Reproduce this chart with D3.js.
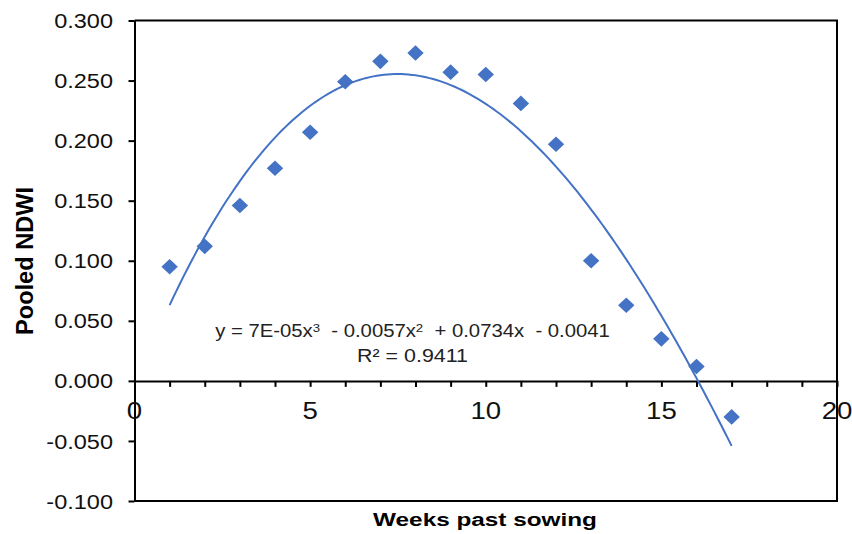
<!DOCTYPE html>
<html>
<head>
<meta charset="utf-8">
<script src="https://cdn.jsdelivr.net/npm/d3@7"></script>
<style>
  html, body { margin: 0; padding: 0; background: #fff; }
  svg { display: block; font-family: "Liberation Sans", Arial, sans-serif; }
  text { white-space: pre; }
</style>
</head>
<body>
<svg id="chart" width="852" height="534"></svg>
<script>
// ---- data ----
const weeks = [1, 2, 3, 4, 5, 6, 7, 8, 9, 10, 11, 12, 13, 14, 15, 16, 17];
const ndwi  = [0.095, 0.112, 0.146, 0.177, 0.207, 0.249, 0.266, 0.273, 0.257, 0.255, 0.231, 0.197, 0.100, 0.063, 0.035, 0.012, -0.030];
const yTickValues = [-0.1, -0.05, 0, 0.05, 0.1, 0.15, 0.2, 0.25, 0.3];
const yTickLabels = ["-0.100", "-0.050", "0.000", "0.050", "0.100", "0.150", "0.200", "0.250", "0.300"];
const xTickValues = [0, 5, 10, 15, 20];
const xTickLabels = ["0", "5", "10", "15", "20"];
const xTitle = "Weeks past sowing";
const yTitle = "Pooled NDWI";
const eqLine2 = "R² = 0.9411";

const color = "#4472C4";
const svg = d3.select("#chart");
const L = 134.5, R = 837, T = 20.5, B = 501;

const x = d3.scaleLinear().domain([0, 20]).range([L, R]);
const y = d3.scaleLinear().domain([-0.1, 0.3]).range([B, T]);

// frame (top, right, bottom)
svg.append("path")
  .attr("d", `M${L},${T}H${R}V${B}H${L}`)
  .attr("fill", "none").attr("stroke", "#000").attr("stroke-width", 2);

// y axis
const yAxis = svg.append("g").attr("transform", `translate(${L},0)`)
  .call(d3.axisLeft(y).tickValues(yTickValues).tickSize(6).tickSizeOuter(0).tickFormat(""));
yAxis.selectAll("path, line").attr("stroke", "#000").attr("stroke-width", 2);

// x axis at zero
const xAxis = svg.append("g").attr("transform", `translate(0,${y(0)})`)
  .call(d3.axisBottom(x).tickValues(d3.range(0, 21)).tickSize(6).tickSizeOuter(0).tickFormat(""));
xAxis.selectAll("path, line").attr("stroke", "#000").attr("stroke-width", 2);

// helper: stretch text horizontally to a target width
function fitWidth(sel, target) {
  sel.each(function() {
    const len = this.getComputedTextLength();
    const k = target / len;
    const tr = this.getAttribute("data-tr");
    this.setAttribute("transform", `${tr} scale(${k},1)`);
  });
}

// y tick labels
yTickValues.forEach((v, i) => {
  svg.append("text")
    .attr("transform", `translate(113,${y(v)}) scale(1.12,1)`)
    .attr("text-anchor", "end").attr("dy", "0.36em")
    .attr("font-size", 21).attr("fill", "#111")
    .text(yTickLabels[i]);
});

// x tick labels
xTickValues.forEach((v, i) => {
  svg.append("text")
    .attr("transform", `translate(${x(v)},419) scale(1.15,1)`)
    .attr("text-anchor", "middle")
    .attr("font-size", 24).attr("fill", "#111")
    .text(xTickLabels[i]);
});

// titles
const xt = svg.append("text")
  .attr("data-tr", "translate(485,526)")
  .attr("text-anchor", "middle").attr("font-size", 19).attr("font-weight", "bold")
  .text(xTitle);
fitWidth(xt, 224);

const yt = svg.append("text")
  .attr("data-tr", "translate(33,261) rotate(-90)")
  .attr("text-anchor", "middle").attr("font-size", 24).attr("font-weight", "bold")
  .text(yTitle);
fitWidth(yt, 148);

// cubic least-squares trendline
function polyfit(xs, ys, deg) {
  const n = deg + 1;
  const A = Array.from({length: n}, () => new Array(n + 1).fill(0));
  for (let k = 0; k < xs.length; k++) {
    for (let i = 0; i < n; i++) {
      for (let j = 0; j < n; j++) A[i][j] += Math.pow(xs[k], i + j);
      A[i][n] += ys[k] * Math.pow(xs[k], i);
    }
  }
  for (let i = 0; i < n; i++) {
    let p = i;
    for (let r = i + 1; r < n; r++) if (Math.abs(A[r][i]) > Math.abs(A[p][i])) p = r;
    [A[i], A[p]] = [A[p], A[i]];
    for (let r = 0; r < n; r++) {
      if (r === i) continue;
      const f = A[r][i] / A[i][i];
      for (let c = i; c <= n; c++) A[r][c] -= f * A[i][c];
    }
  }
  return A.map((row, i) => row[n] / row[i]);
}
const coef = polyfit(weeks, ndwi, 3);
const fx = t => coef[0] + coef[1] * t + coef[2] * t * t + coef[3] * t * t * t;
const xs = d3.range(weeks[0], weeks[weeks.length - 1] + 0.001, 0.1);
svg.append("path")
  .datum(xs)
  .attr("d", d3.line().x(t => x(t)).y(t => y(fx(t))))
  .attr("fill", "none").attr("stroke", color).attr("stroke-width", 2);

// markers (diamonds)
svg.append("g").selectAll("path")
  .data(weeks.map((w, i) => [w, ndwi[i]]))
  .join("path")
  .attr("d", "M0,-7.8L8.2,0L0,7.8L-8.2,0Z")
  .attr("transform", d => `translate(${x(d[0])},${y(d[1])})`)
  .attr("fill", color);

// equation text
const eq = svg.append("text")
  .attr("data-tr", "translate(412.5,336.7)")
  .attr("text-anchor", "middle").attr("font-size", 17.5).attr("fill", "#222");
eq.append("tspan").text("y = 7E-05x");
eq.append("tspan").attr("font-size", "65%").attr("dy", "-0.45em").text("3");
eq.append("tspan").attr("dy", "0.29em").text("  - 0.0057x");
eq.append("tspan").attr("font-size", "65%").attr("dy", "-0.45em").text("2");
eq.append("tspan").attr("dy", "0.29em").text("  + 0.0734x  - 0.0041");
fitWidth(eq, 395);

const eq2 = svg.append("text")
  .attr("data-tr", "translate(412.5,361.7)")
  .attr("text-anchor", "middle").attr("font-size", 17.5).attr("fill", "#222")
  .text(eqLine2);
fitWidth(eq2, 111);
</script>
</body>
</html>
